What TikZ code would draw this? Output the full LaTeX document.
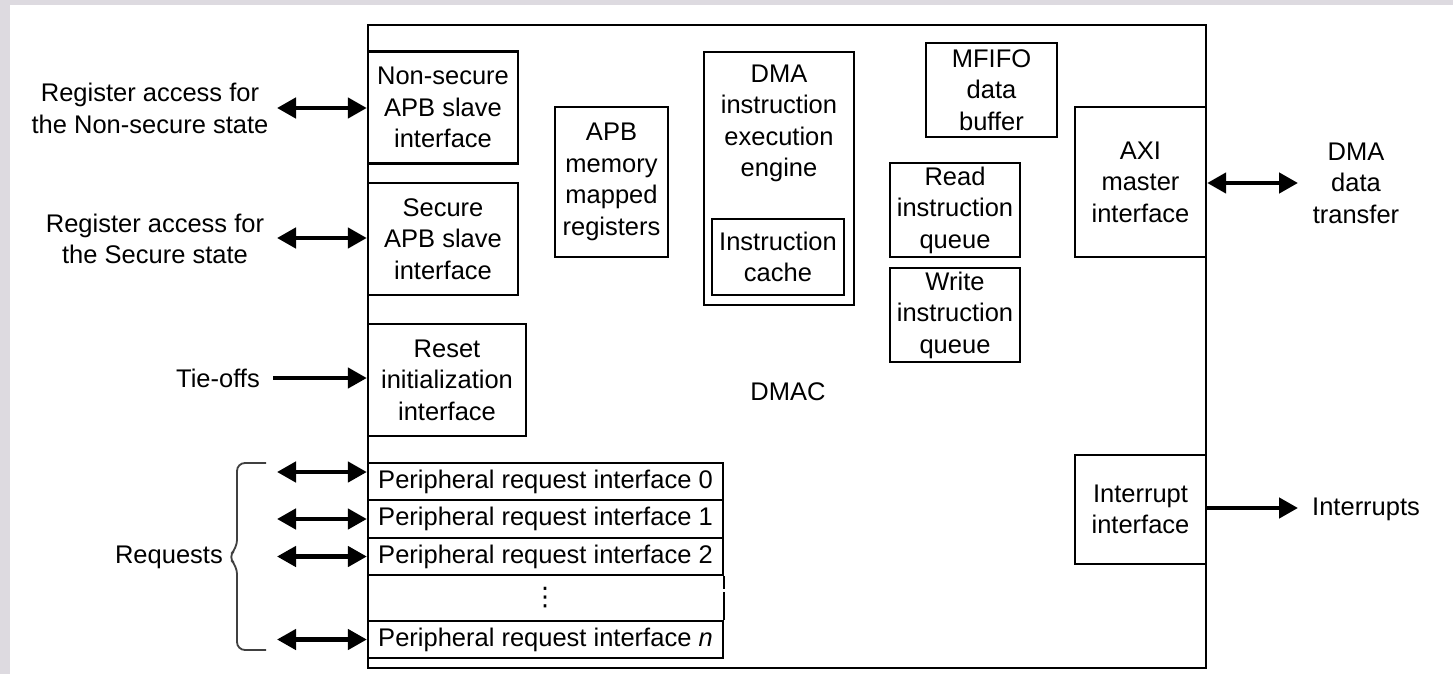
\documentclass[tikz,border=0pt]{standalone}
\usepackage{fontspec}
\setmainfont{Liberation Sans}
\newfontfamily\dejavu{DejaVu Sans}
\usetikzlibrary{arrows.meta}
\definecolor{bgc}{HTML}{DDDAE0}
\begin{document}
\begin{tikzpicture}[x=1pt,y=-1pt,
  every node/.style={font=\fontsize{25.5}{31.5}\selectfont, inner sep=0pt, align=center},
  blk/.style={draw, line width=2.3pt, fill=white},
  dbl/.style={line width=4.5pt, {Triangle[length=19pt,width=20pt]}-{Triangle[length=19pt,width=20pt]}},
  sgl/.style={line width=4.5pt, -{Triangle[length=19pt,width=20pt]}},
  brace/.style={line width=1.8pt, draw=black!75, rounded corners=8pt}]
\useasboundingbox (0,0) rectangle (1453,674);
\fill[bgc] (0,0) rectangle (1453,674);
\fill[white] (10,5) rectangle (1453,674);
% main DMAC box
\node[blk, minimum width=838, minimum height=643] (dmac) at (787,346.5) {};
\node (dmaclbl) at (788,392) {DMAC};
% left interface boxes
\node[blk, minimum width=150, minimum height=112] (ns) at (443,107.5) {Non-secure\\APB slave\\interface};
\node[blk, minimum width=150, minimum height=112] (sec) at (443,239) {Secure\\APB slave\\interface};
\node[blk, minimum width=158, minimum height=112] (rst) at (447,380) {Reset\\initialization\\interface};
% inner blocks
\node[blk, minimum width=113, minimum height=150] (apb) at (611.5,182) {APB\\memory\\mapped\\registers};
\node[blk, minimum width=150, minimum height=253] (eng) at (779,178.5) {};
\node (englbl) at (779,123.5) {DMA\\instruction\\execution\\engine};
\node[blk, minimum width=132, minimum height=76] (cache) at (778,257) {Instruction\\cache};
\node[blk, minimum width=131, minimum height=94] (mfifo) at (991.5,90) {MFIFO\\data\\buffer};
\node[blk, minimum width=130, minimum height=94] (rdq) at (955,210) {Read\\instruction\\queue};
\node[blk, minimum width=130, minimum height=94] (wrq) at (955,315) {Write\\instruction\\queue};
\node[blk, minimum width=131, minimum height=150] (axi) at (1140.5,182) {AXI\\master\\interface};
\node[blk, minimum width=131, minimum height=109] (intr) at (1140.5,509.5) {Interrupt\\interface};
% peripheral request interfaces
\node[blk, minimum width=355, minimum height=37] (p0) at (545.5,481.5) {Peripheral request interface 0};
\node[blk, minimum width=355, minimum height=38] (p1) at (545.5,519) {Peripheral request interface 1};
\node[blk, minimum width=355, minimum height=37] (p2) at (545.5,556.5) {Peripheral request interface 2};
\node[blk, minimum width=355, minimum height=37] (pn) at (545.5,639.5) {Peripheral request interface \textit{n}};
\node[font=\dejavu\fontsize{25.5}{30}\selectfont] (dots) at (545,598) {⋮};
\draw[line width=2.3pt] (p2.south east) -- ++(0,13);
\draw[line width=2.3pt] (pn.north east) -- ++(0,-28);
% outside labels
\node (lns) at (150,108.5) {Register access for\\the Non-secure state};
\node (lsec) at (155,239) {Register access for\\the Secure state};
\node (ltie) at (218,378) {Tie-offs};
\node[anchor=east] (lreq) at (223,557) {Requests};
\node (ldma) at (1356,183) {DMA\\data\\transfer};
\node[anchor=west] (lint) at (1312,509) {Interrupts};
% connectors
\coordinate (ans) at (277,108);
\draw[dbl] (ans) -- (ns.west |- ans);
\coordinate (asec) at (277,238);
\draw[dbl] (asec) -- (sec.west |- asec);
\coordinate (atie) at (273,378);
\draw[sgl] (atie) -- (rst.west |- atie);
\coordinate (ar0) at (277,472);
\draw[dbl] (ar0) -- (p0.west |- ar0);
\coordinate (ar1) at (277,519);
\draw[dbl] (ar1) -- (p1.west |- ar1);
\coordinate (ar2) at (277,556.5);
\draw[dbl] (ar2) -- (p2.west |- ar2);
\coordinate (arn) at (277,639.5);
\draw[dbl] (arn) -- (pn.west |- arn);
\coordinate (adma) at (1298,183);
\draw[dbl] (axi.east |- adma) -- (adma);
\coordinate (aint) at (1298,508);
\draw[sgl] (intr.east |- aint) -- (aint);
% brace
\draw[brace] (266,463) -- (237,463) -- (237,548) -- (228,557) -- (237,566) -- (237,650) -- (266,650);
\end{tikzpicture}
\end{document}
